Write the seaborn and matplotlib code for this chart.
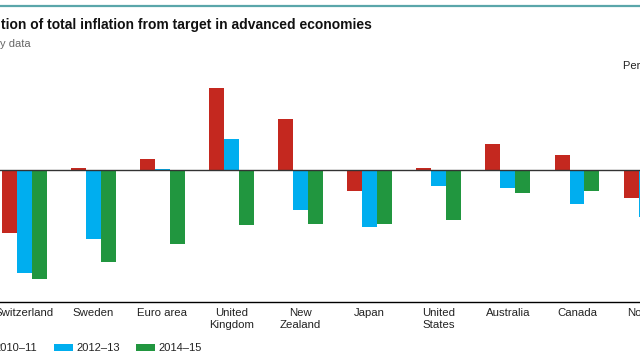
import numpy as np
import pandas as pd
import seaborn as sns
import matplotlib.pyplot as plt
from matplotlib.patches import Patch
from matplotlib.lines import Line2D

sns.set_style("white")
plt.rcParams['font.family'] = ['Liberation Sans', 'DejaVu Sans']

# ===== DATA (percentage points) =====
countries = ["Switzerland", "Sweden", "Euro area", "United\nKingdom", "New\nZealand",
             "Japan", "United\nStates", "Australia", "Canada", "Norway"]
periods = ["2010\u201311", "2012\u201313", "2014\u201315"]
dev_2010_11 = [-1.51, 0.05, 0.25, 1.95, 1.21, -0.51, 0.05, 0.63, 0.35, -0.67]
dev_2012_13 = [-2.46, -1.65, 0.03, 0.73, -0.95, -1.36, -0.39, -0.42, -0.80, -1.13]
dev_2014_15 = [-2.60, -2.19, -1.75, -1.31, -1.29, -1.29, -1.19, -0.54, -0.51, -0.40]

COLORS = ["#C4281F", "#00AEEF", "#21963F"]

df = pd.DataFrame({
    "country": countries * 3,
    "period": [p for p in periods for _ in countries],
    "value": dev_2010_11 + dev_2012_13 + dev_2014_15,
})

W, H = 640, 360
fig = plt.figure(figsize=(6.4, 3.6), dpi=100)

# axes wider than the canvas: the reference is a crop of a bigger chart
x0 = (24.2 - 0.5 * 69.1) / W
ax = fig.add_axes([x0, (H - 301.5) / H, 69.1 * 10 / W, (301.5 - 75) / H])

sns.barplot(data=df, x="country", y="value", hue="period", order=countries,
            hue_order=periods, palette=COLORS, saturation=1, width=0.65, linewidth=0,
            errorbar=None, legend=False, ax=ax)

ax.axhline(0, color="#333333", lw=1.0, zorder=3)
ax.set_xlim(-0.5, len(countries) - 0.5)
ax.set_ylim(-(301.5 - 170) / 42, (170 - 75) / 42)

# group separators as major ticks, country names as minor ticks
ax.set_xticks(np.arange(-0.5, len(countries)), [])
ax.set_xticks(range(len(countries)), countries, minor=True)
ax.tick_params(axis="x", which="major", direction="in", length=6, width=1, color="black")
ax.tick_params(axis="x", which="minor", length=0, pad=5, labelsize=8.2, labelcolor="#222222")
ax.set_yticks([])
ax.set_xlabel("")
ax.set_ylabel("")
for s in ["top", "left", "right"]:
    ax.spines[s].set_visible(False)
ax.spines["bottom"].set_color("black")
ax.spines["bottom"].set_linewidth(1.0)

# header
fig.add_artist(Line2D([0, 1], [1 - 5.5 / H, 1 - 5.5 / H], color="#5AA6AA", lw=1.6))
fig.text(1 / W, 1 - 25 / H, "tion of total inflation from target in advanced economies",
         fontsize=10, fontweight="bold", color="#111111", va="center", ha="left")
fig.text(0 / W, 1 - 44 / H, "y data", fontsize=8, color="#666666", va="center", ha="left")
fig.text(623 / W, 1 - 66 / H, "Percentage points", fontsize=8, color="#222222",
         va="center", ha="left")

# legend
handles = [Patch(facecolor=c, edgecolor="none") for c in COLORS]
fig.legend(handles, periods, loc="center left", bbox_to_anchor=(-27.7 / W, 1 - 348 / H),
           ncol=3, frameon=False, fontsize=8, borderpad=0, borderaxespad=0,
           handlelength=1.7, handleheight=0.6, handletextpad=0.3, columnspacing=1.5,
           labelcolor="#222222")

plt.savefig("out.png", dpi=100)
plt.close()
